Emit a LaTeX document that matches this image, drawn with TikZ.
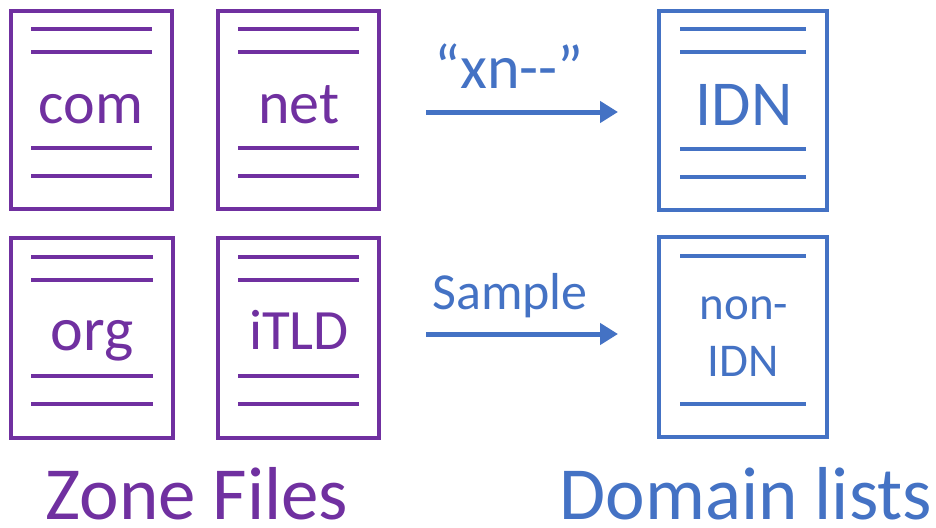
\documentclass[tikz,border=0pt]{standalone}
\usepackage{fontspec}
\setmainfont{Carlito}
\usetikzlibrary{arrows.meta}
\definecolor{zpurple}{HTML}{7030A0}
\definecolor{dblue}{HTML}{4472C4}
\newcommand{\doclines}[3]{%
  \foreach \o in {#2} {
    \draw[docline] ([xshift=#3pt,yshift=-\o pt]#1.north west) -- ([xshift=-#3pt,yshift=-\o pt]#1.north east);
  }}
\tikzset{
  docbox/.style={draw, line width=4pt, inner sep=0pt, fill=none},
  docline/.style={line width=3.5pt},
  flow/.style={line width=5pt, -{Triangle[length=18pt,width=21pt]}},
  txt/.style={anchor=base, inner sep=0pt},
}
\begin{document}
\begin{tikzpicture}[x=1pt,y=-1pt]
\useasboundingbox (0,0) rectangle (936,527);
% zone files
\begin{scope}[color=zpurple]
\node[docbox, minimum width=161pt, minimum height=198pt] (com) at (91.5,110) {};
\node[docbox, minimum width=161pt, minimum height=198pt] (net) at (298.5,110) {};
\node[docbox, minimum width=162pt, minimum height=200pt] (org) at (92,338) {};
\node[docbox, minimum width=161pt, minimum height=200pt] (itld) at (298.5,338) {};
\doclines{com}{20,43,139,167}{22}
\doclines{net}{20,43,139,167}{22}
\doclines{org}{21,44,140,168}{22}
\doclines{itld}{21,44,140,168}{22}
\node[txt, font=\fontsize{60}{60}\selectfont] (tcom) at (91,123) {com};
\node[txt, font=\fontsize{60}{60}\selectfont] (tnet) at (299,123) {net};
\node[txt, font=\fontsize{62}{62}\selectfont] (torg) at (92,350) {org};
\node[txt, font=\fontsize{57}{57}\selectfont] (titld) at (299,349) {iTLD};
\node[txt, font=\fontsize{75}{75}\selectfont] (zf) at (197,519) {Zone Files};
\end{scope}
% domain lists
\begin{scope}[color=dblue]
\node[docbox, minimum width=168pt, minimum height=199pt] (idn) at (743,110.5) {};
\node[docbox, minimum width=168pt, minimum height=200pt] (nonidn) at (743,337) {};
\doclines{idn}{20,43,140,168}{23}
\doclines{nonidn}{21,169}{23}
\node[txt, font=\fontsize{64}{64}\selectfont] (tidn) at (744,125) {IDN};
\node[txt, font=\fontsize{47}{47}\selectfont] (tnon) at (744,319) {non-};
\node[txt, font=\fontsize{47}{47}\selectfont] (tnidn) at (743,376) {IDN};
\node[txt, font=\fontsize{75}{75}\selectfont] (dl) at (746,519) {Domain lists};
\coordinate (a1s) at (426,112);
\coordinate (a1e) at (618,112);
\coordinate (a2s) at (426,334);
\coordinate (a2e) at (618,334);
\draw[flow] (a1s) -- (a1e);
\draw[flow] (a2s) -- (a2e);
\node[txt, font=\fontsize{62}{62}\selectfont] (lxn) at (509,88) {“xn-{}-”};
\node[txt, font=\fontsize{52}{52}\selectfont] (lsample) at (510,309) {Sample};
\end{scope}
\end{tikzpicture}
\end{document}
